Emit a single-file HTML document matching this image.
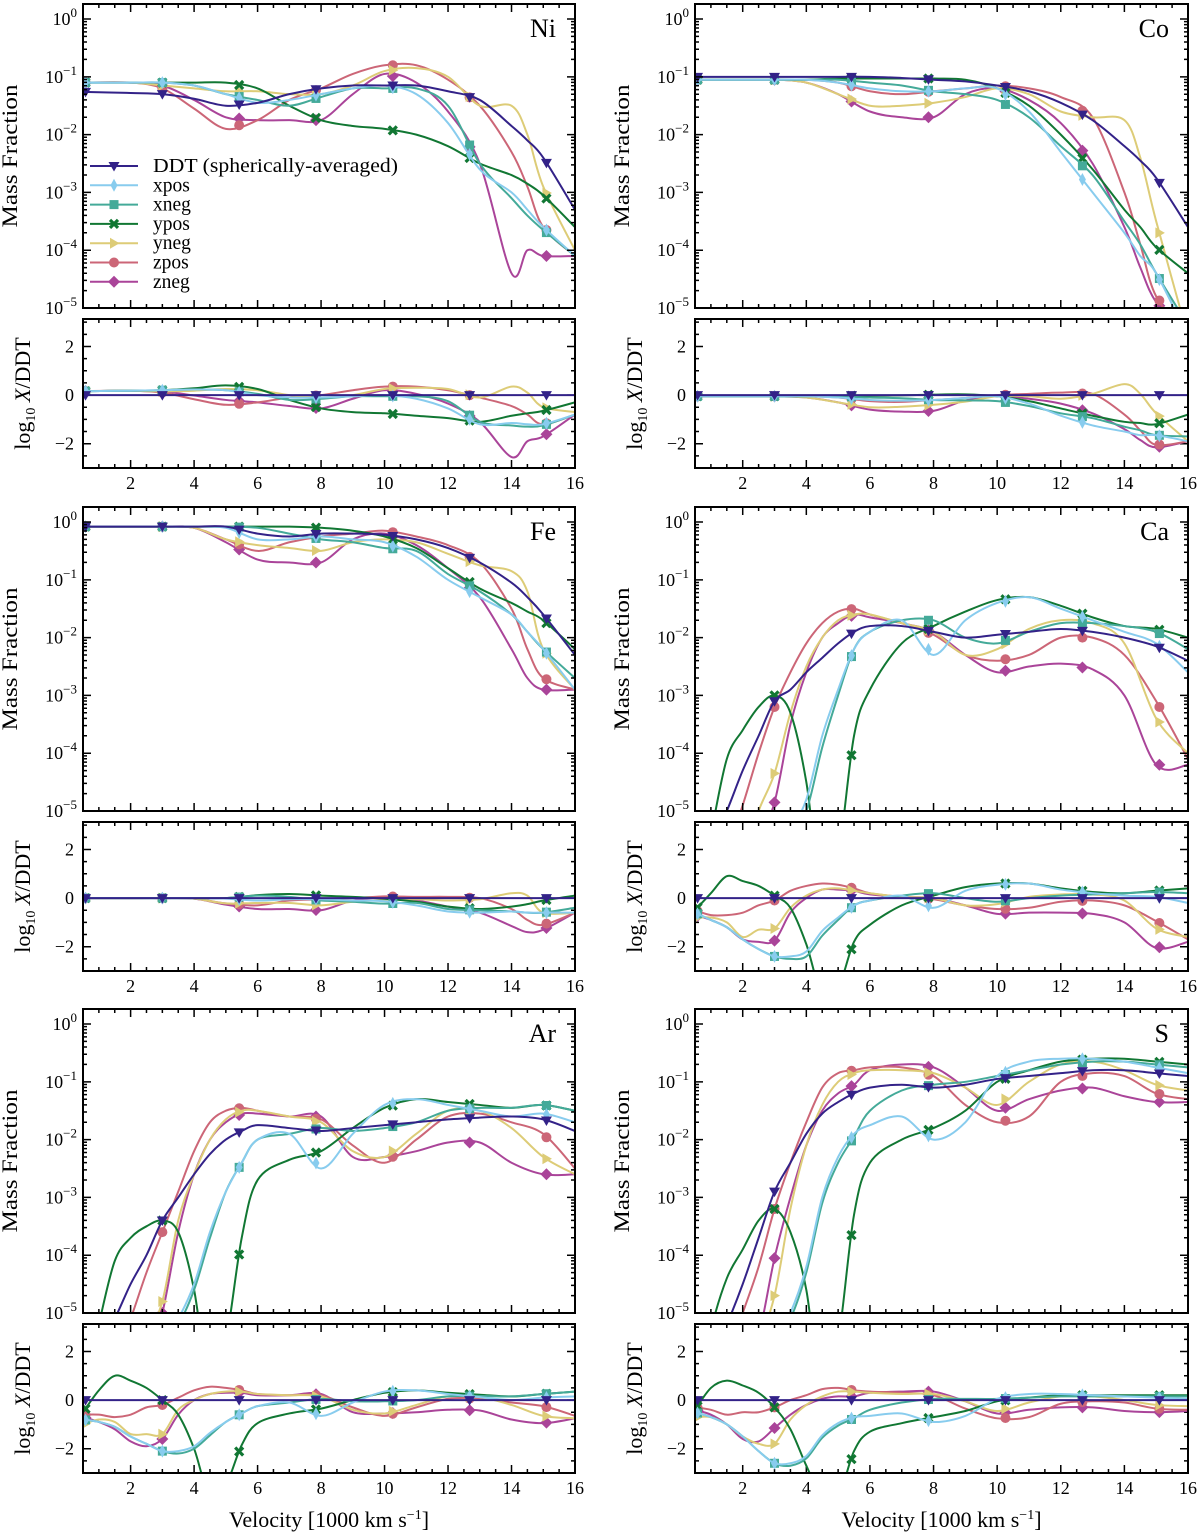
<!DOCTYPE html>
<html><head><meta charset="utf-8">
<style>
html,body{margin:0;padding:0;background:#fff;}
svg{display:block;font-family:"Liberation Serif",serif;}
</style></head>
<body>
<svg id="fig" width="1200" height="1538" viewBox="0 0 1200 1538" xmlns="http://www.w3.org/2000/svg"></svg>
<script>
// ---------- data ----------
const seriesNames = ["DDT (spherically-averaged)","xpos","xneg","ypos","yneg","zpos","zneg"];
const seriesKeys = ["ddt","xpos","xneg","ypos","yneg","zpos","zneg"];
const elements = ["Ni","Co","Fe","Ca","Ar","S"];
const xTicks = [2,4,6,8,10,12,14,16];
const yMainTicks = [0,-1,-2,-3,-4,-5];
const yRatioTicks = [2,0,-2];
const markerVel = [0.58,3.0,5.42,7.84,10.26,12.68,15.1];
// velocity grids (1000 km/s)
const velA = [0.5,2,3,4,5,6,7,8,9,10,11,12,13,14,14.5,15,16];
const velB = [0.5,1,1.5,2,2.5,3,3.5,4,4.5,5,5.5,6,7,8,9,10,11,12,13,14,15,16];
// log10 mass fractions
const niDDT  = [-1.26,-1.28,-1.3,-1.38,-1.5,-1.45,-1.3,-1.2,-1.15,-1.15,-1.15,-1.25,-1.4,-1.85,-2.1,-2.4,-3.3];
const niXpos = [-1.1,-1.1,-1.1,-1.15,-1.3,-1.45,-1.4,-1.3,-1.2,-1.15,-1.3,-1.8,-2.6,-3.0,-3.3,-3.6,-4.1];
const niXneg = [-1.1,-1.1,-1.1,-1.15,-1.3,-1.4,-1.5,-1.35,-1.2,-1.2,-1.2,-1.5,-2.5,-3.1,-3.4,-3.65,-4.1];
const niYpos = [-1.1,-1.1,-1.1,-1.1,-1.1,-1.2,-1.5,-1.75,-1.85,-1.9,-2.0,-2.2,-2.5,-2.7,-2.85,-3.05,-3.6];
const niYneg = [-1.1,-1.1,-1.15,-1.2,-1.25,-1.25,-1.3,-1.3,-1.15,-0.9,-0.85,-1.0,-1.5,-1.5,-2.0,-2.9,-4.0];
const niZpos = [-1.1,-1.1,-1.2,-1.55,-1.9,-1.75,-1.4,-1.2,-0.95,-0.8,-0.8,-1.05,-1.5,-2.3,-2.9,-3.6,-4.1];
const niZneg = [-1.1,-1.1,-1.15,-1.4,-1.7,-1.75,-1.75,-1.75,-1.3,-0.95,-1.1,-1.6,-2.5,-4.4,-4.0,-4.1,-4.1];

const coDDT  = [-1.0,-1.0,-1.0,-1.0,-1.0,-1.0,-1.02,-1.05,-1.08,-1.15,-1.25,-1.45,-1.75,-2.2,-2.45,-2.75,-3.6];
const coXpos = [-1.05,-1.05,-1.05,-1.05,-1.1,-1.2,-1.25,-1.25,-1.2,-1.2,-1.6,-2.3,-3.0,-3.7,-4.1,-4.4,-5.5];
const coXneg = [-1.05,-1.05,-1.05,-1.05,-1.05,-1.1,-1.15,-1.25,-1.3,-1.4,-1.7,-2.2,-2.7,-3.5,-3.9,-4.4,-5.3];
const coYpos = [-1.05,-1.05,-1.05,-1.05,-1.03,-1.03,-1.03,-1.03,-1.05,-1.2,-1.5,-2.0,-2.6,-3.3,-3.6,-3.95,-4.4];
const coYneg = [-1.05,-1.05,-1.05,-1.1,-1.3,-1.5,-1.5,-1.45,-1.35,-1.2,-1.3,-1.6,-1.7,-1.75,-2.4,-3.5,-5.5];
const coZpos = [-1.05,-1.05,-1.05,-1.05,-1.1,-1.25,-1.3,-1.25,-1.2,-1.15,-1.2,-1.35,-1.7,-3.0,-3.9,-4.8,-5.5];
const coZneg = [-1.05,-1.05,-1.05,-1.1,-1.3,-1.6,-1.7,-1.7,-1.3,-1.2,-1.4,-1.8,-2.5,-3.6,-4.3,-4.9,-5.5];

const feDDT  = [-0.08,-0.08,-0.08,-0.08,-0.08,-0.2,-0.25,-0.2,-0.2,-0.22,-0.3,-0.45,-0.7,-1.05,-1.3,-1.6,-2.3];
const feXpos = [-0.08,-0.08,-0.08,-0.08,-0.1,-0.3,-0.3,-0.25,-0.3,-0.35,-0.6,-1.0,-1.3,-1.6,-1.9,-2.2,-2.9];
const feXneg = [-0.08,-0.08,-0.08,-0.08,-0.08,-0.1,-0.2,-0.3,-0.35,-0.45,-0.5,-0.9,-1.2,-1.6,-1.9,-2.2,-2.7];
const feYpos = [-0.08,-0.08,-0.08,-0.08,-0.08,-0.08,-0.08,-0.1,-0.15,-0.25,-0.45,-0.8,-1.15,-1.4,-1.55,-1.7,-2.2];
const feYneg = [-0.08,-0.08,-0.08,-0.1,-0.3,-0.4,-0.45,-0.5,-0.35,-0.3,-0.35,-0.55,-0.75,-0.85,-1.2,-2.2,-2.9];
const feZpos = [-0.08,-0.08,-0.08,-0.1,-0.3,-0.5,-0.35,-0.25,-0.2,-0.15,-0.25,-0.4,-0.7,-1.5,-2.2,-2.7,-2.9];
const feZneg = [-0.08,-0.08,-0.08,-0.1,-0.35,-0.65,-0.7,-0.7,-0.3,-0.2,-0.4,-0.8,-1.3,-2.2,-2.7,-2.9,-2.9];

const caDDT  = [-6.2,-5.6,-5.0,-4.3,-3.7,-3.1,-2.9,-2.6,-2.35,-2.1,-1.9,-1.8,-1.8,-1.9,-2.0,-1.95,-1.9,-1.85,-1.9,-2.0,-2.15,-2.4];
const caXpos = [-6.8,-6.5,-6.2,-6.0,-5.8,-5.5,-5.3,-4.8,-3.7,-2.9,-2.2,-1.9,-1.7,-2.3,-1.7,-1.4,-1.3,-1.5,-1.7,-1.9,-2.1,-2.6];
const caXneg = [-6.8,-6.5,-6.2,-6.0,-5.8,-5.5,-5.4,-5.0,-3.9,-3.0,-2.2,-1.9,-1.7,-1.7,-2.0,-2.1,-1.9,-1.75,-1.75,-1.8,-1.9,-2.2];
const caYpos = [-6.7,-5.4,-4.1,-3.6,-3.2,-3.0,-3.3,-4.5,-6.5,-5.8,-3.7,-2.9,-2.1,-1.8,-1.55,-1.35,-1.3,-1.45,-1.65,-1.8,-1.85,-2.0];
const caYneg = [-7.0,-6.4,-6.0,-5.9,-5.0,-4.35,-3.3,-2.5,-2.0,-1.7,-1.6,-1.6,-1.75,-1.9,-2.3,-2.2,-1.85,-1.7,-1.75,-2.1,-3.4,-4.0];
const caZpos = [-6.7,-6.3,-5.7,-4.9,-4.0,-3.2,-2.6,-2.1,-1.75,-1.55,-1.5,-1.6,-1.75,-1.95,-2.3,-2.4,-2.3,-2.0,-2.0,-2.3,-3.1,-4.1];
const caZneg = [-6.9,-6.5,-6.2,-6.0,-5.5,-4.85,-3.5,-2.6,-2.0,-1.75,-1.6,-1.65,-1.75,-1.9,-2.3,-2.6,-2.5,-2.45,-2.55,-3.0,-4.2,-4.2];

const arDDT  = [-6.0,-5.6,-5.1,-4.5,-4.0,-3.4,-3.0,-2.6,-2.25,-2.0,-1.85,-1.75,-1.8,-1.85,-1.8,-1.75,-1.7,-1.65,-1.62,-1.6,-1.65,-1.85];
const arXpos = [-6.8,-6.5,-6.2,-6.0,-5.8,-5.5,-5.1,-4.5,-3.6,-2.9,-2.4,-2.0,-1.9,-2.5,-1.9,-1.4,-1.3,-1.4,-1.5,-1.6,-1.55,-1.7];
const arXneg = [-6.8,-6.5,-6.2,-6.0,-5.8,-5.5,-5.2,-4.6,-3.7,-2.9,-2.4,-2.0,-1.9,-1.8,-1.85,-1.8,-1.7,-1.5,-1.45,-1.45,-1.4,-1.5];
const arYpos = [-6.5,-5.2,-4.1,-3.7,-3.5,-3.4,-3.6,-4.6,-6.3,-5.5,-3.7,-2.7,-2.35,-2.2,-1.8,-1.45,-1.3,-1.35,-1.4,-1.45,-1.4,-1.5];
const arYneg = [-7.0,-6.4,-6.0,-5.9,-5.4,-4.8,-3.4,-2.6,-2.0,-1.65,-1.5,-1.5,-1.6,-1.7,-2.2,-2.3,-1.9,-1.5,-1.5,-1.8,-2.3,-2.6];
const arZpos = [-6.6,-6.2,-5.8,-5.1,-4.3,-3.6,-2.9,-2.2,-1.7,-1.5,-1.45,-1.5,-1.6,-1.65,-2.1,-2.4,-2.0,-1.6,-1.55,-1.7,-1.9,-2.5];
const arZneg = [-6.7,-6.5,-6.3,-6.2,-5.9,-5.0,-3.6,-2.6,-2.0,-1.7,-1.55,-1.55,-1.6,-1.6,-2.3,-2.3,-2.2,-2.05,-2.05,-2.4,-2.6,-2.6];

const sDDT  = [-6.3,-5.8,-5.2,-4.5,-3.7,-2.9,-2.4,-1.9,-1.55,-1.35,-1.2,-1.1,-1.05,-1.1,-1.05,-0.95,-0.9,-0.85,-0.8,-0.8,-0.85,-0.9];
const sXpos = [-6.8,-6.5,-6.2,-6.0,-5.8,-5.5,-5.0,-4.2,-3.0,-2.3,-1.9,-1.75,-1.6,-2.0,-1.7,-0.9,-0.65,-0.6,-0.6,-0.65,-0.75,-0.85];
const sXneg = [-6.8,-6.5,-6.2,-6.0,-5.8,-5.5,-5.1,-4.3,-3.1,-2.4,-1.95,-1.5,-1.15,-1.05,-1.0,-0.9,-0.8,-0.7,-0.65,-0.65,-0.7,-0.75];
const sYpos = [-6.7,-5.3,-4.4,-3.9,-3.4,-3.2,-3.6,-4.6,-6.5,-5.5,-3.3,-2.4,-2.0,-1.8,-1.5,-1.0,-0.8,-0.65,-0.6,-0.6,-0.65,-0.7];
const sYneg = [-7.0,-6.5,-6.2,-6.0,-5.5,-4.7,-3.2,-2.1,-1.4,-1.0,-0.85,-0.8,-0.8,-0.85,-1.1,-1.4,-1.0,-0.7,-0.65,-0.8,-1.05,-1.15];
const sZpos = [-6.6,-6.2,-5.8,-5.0,-4.2,-3.2,-2.4,-1.7,-1.1,-0.85,-0.8,-0.75,-0.75,-0.9,-1.4,-1.7,-1.6,-1.0,-0.85,-0.9,-1.2,-1.3];
const sZneg = [-6.7,-6.4,-6.2,-6.1,-5.4,-4.05,-3.0,-2.1,-1.5,-1.2,-1.05,-0.8,-0.7,-0.75,-1.1,-1.5,-1.3,-1.15,-1.1,-1.25,-1.35,-1.35];

// ---------- rendering ----------
const colors = ["#332288","#88CCEE","#44AA99","#117733","#DDCC77","#CC6677","#AA4499"];
const NS = "http://www.w3.org/2000/svg";
const svg = document.getElementById("fig");
function mk(tag, attrs, parent){
  const e = document.createElementNS(NS, tag);
  for (const k in attrs) e.setAttribute(k, attrs[k]);
  (parent||svg).appendChild(e);
  return e;
}
const panelsData = {
  Ni:{v:velA, s:[niDDT,niXpos,niXneg,niYpos,niYneg,niZpos,niZneg], col:0,row:0},
  Co:{v:velA, s:[coDDT,coXpos,coXneg,coYpos,coYneg,coZpos,coZneg], col:1,row:0},
  Fe:{v:velA, s:[feDDT,feXpos,feXneg,feYpos,feYneg,feZpos,feZneg], col:0,row:1},
  Ca:{v:velB, s:[caDDT,caXpos,caXneg,caYpos,caYneg,caZpos,caZneg], col:1,row:1},
  Ar:{v:velB, s:[arDDT,arXpos,arXneg,arYpos,arYneg,arZpos,arZneg], col:0,row:2},
  S :{v:velB, s:[sDDT,sXpos,sXneg,sYpos,sYneg,sZpos,sZneg], col:1,row:2}
};
const colX = [[83,575],[695,1188]];
const rowOff = [0,503,1005];
const XMIN=0.5, XMAX=16;
function interp(v, arr, x){
  if (x<=v[0]) return arr[0];
  for (let i=1;i<v.length;i++){ if (x<=v[i]){ const t=(x-v[i-1])/(v[i]-v[i-1]); return arr[i-1]+t*(arr[i]-arr[i-1]); } }
  return arr[arr.length-1];
}
function smoothPath(pts){
  let d = "M"+pts[0][0].toFixed(2)+","+pts[0][1].toFixed(2);
  for (let i=0;i<pts.length-1;i++){
    const p0=pts[Math.max(0,i-1)], p1=pts[i], p2=pts[i+1], p3=pts[Math.min(pts.length-1,i+2)];
    const c1x=p1[0]+(p2[0]-p0[0])/6, c1y=p1[1]+(p2[1]-p0[1])/6;
    const c2x=p2[0]-(p3[0]-p1[0])/6, c2y=p2[1]-(p3[1]-p1[1])/6;
    d += " C"+c1x.toFixed(2)+","+c1y.toFixed(2)+" "+c2x.toFixed(2)+","+c2y.toFixed(2)+" "+p2[0].toFixed(2)+","+p2[1].toFixed(2);
  }
  return d;
}
function marker(g, k, x, y, c){
  let e;
  if (k===0) e = mk("path",{d:`M${x-5.5},${y-4} L${x+5.5},${y-4} L${x},${y+5.5} Z`,fill:c},g);
  else if (k===1) e = mk("path",{d:`M${x},${y-6.5} L${x+3.5},${y} L${x},${y+6.5} L${x-3.5},${y} Z`,fill:c},g);
  else if (k===2) e = mk("rect",{x:x-4.5,y:y-4.5,width:9,height:9,fill:c},g);
  else if (k===3) e = mk("path",{d:`M${x-4},${y-4} L${x+4},${y+4} M${x+4},${y-4} L${x-4},${y+4}`,stroke:c,"stroke-width":3.2},g);
  else if (k===4) e = mk("path",{d:`M${x-4},${y-5.5} L${x+5.5},${y} L${x-4},${y+5.5} Z`,fill:c},g);
  else if (k===5) e = mk("circle",{cx:x,cy:y,r:5,fill:c},g);
  else e = mk("path",{d:`M${x},${y-6} L${x+6},${y} L${x},${y+6} L${x-6},${y} Z`,fill:c},g);
  return e;
}
function supLabel(parent, x, y, base, exp, anchor){
  const t = mk("text",{x:x,y:y,"font-size":18,"text-anchor":anchor||"end",fill:"#000"},parent);
  const b = mk("tspan",{},t); b.textContent = base;
  const s = mk("tspan",{dy:-8,"font-size":13},t); s.textContent = exp;
  return t;
}
let clipId=0;
function drawPanel(el){
  const P = panelsData[el];
  const [x0,x1] = colX[P.col];
  const off = rowOff[P.row];
  const sx = v => x0 + (v-XMIN)/(XMAX-XMIN)*(x1-x0);
  const my0 = 4+off, my1 = 308+off;
  const LTOP = 0.26, LBOT = -5;
  const sy = l => my0 + (LTOP-l)/(LTOP-LBOT)*(my1-my0);
  const ry0 = 319+off, ry1 = 468+off;
  const RTOP = 3.13, RBOT = -3.0;
  const sr = r => ry0 + (RTOP-r)/(RTOP-RBOT)*(ry1-ry0);

  const gm = mk("g",{});
  
  
  const gr = mk("g",{});
  
  

  const cm = "c"+(clipId++), cr = "c"+(clipId++);
  const defs = mk("defs",{},gm);
  const cpm = mk("clipPath",{id:cm},defs); mk("rect",{x:x0,y:my0,width:x1-x0,height:my1-my0},cpm);
  const cpr = mk("clipPath",{id:cr},defs); mk("rect",{x:x0,y:ry0,width:x1-x0,height:ry1-ry0},cpr);

  const linesM = mk("g",{"clip-path":`url(#${cm})`},gm);
  const linesR = mk("g",{"clip-path":`url(#${cr})`},gr);
  const ddt = P.s[0];
  for (let k=6;k>=0;k--){
    const arr = P.s[k];
    const ptsM = P.v.map((v,i)=>[sx(v), sy(arr[i])]);
    const pm = mk("path",{d:smoothPath(ptsM),fill:"none",stroke:colors[k],"stroke-width":2},linesM);
    
    
    const ptsR = P.v.map((v,i)=>[sx(v), sr(Math.max(-4,Math.min(4,arr[i]-ddt[i])))]);
    const pr = mk("path",{d:smoothPath(ptsR),fill:"none",stroke:colors[k],"stroke-width":2},linesR);
    
    
    markerVel.forEach(mv=>{
      const val = interp(P.v, arr, mv);
      const rv = val - interp(P.v, ddt, mv);
      if (val>=LBOT && val<=LTOP){
        const m = marker(linesM,k,sx(mv),sy(val),colors[k]);
        
        
      }
      if (rv>=RBOT && rv<=RTOP){
        const m2 = marker(linesR,k,sx(mv),sr(rv),colors[k]);
        
        
      }
    });
  }
  mk("rect",{x:x0,y:my0,width:x1-x0,height:my1-my0,fill:"none",stroke:"#000","stroke-width":2},gm);
  mk("rect",{x:x0,y:ry0,width:x1-x0,height:ry1-ry0,fill:"none",stroke:"#000","stroke-width":2},gr);
  let td="";
  for (let v=0.5; v<=16.001; v+=0.5){
    const X=sx(v); const major = Math.abs(v%2)<1e-6;
    const L = major?8:4;
    td += `M${X},${my1}v${-L}M${X},${my0}v${L}M${X},${ry1}v${-L}M${X},${ry0}v${L}`;
  }
  for (let d=0; d>=-5; d--){
    const Y=sy(d);
    td += `M${x0},${Y}h8M${x1},${Y}h-8`;
    for (let m=2;m<=9;m++){
      const Ym = sy(d-1+Math.log10(m));
      if (Ym<=my1 && Ym>=my0) td += `M${x0},${Ym}h4M${x1},${Ym}h-4`;
    }
  }
  for (let r=-3; r<=3.001; r+=0.5){
    const Y=sr(r); const major = Math.abs(r%2)<1e-6;
    const L = major?8:4;
    td += `M${x0},${Y}h${L}M${x1},${Y}h${-L}`;
  }
  mk("path",{d:td,stroke:"#000","stroke-width":1.5,fill:"none"},gm);
  yMainTicks.forEach(d=>{
    const t = supLabel(gm, x0-6, sy(d)+6, "10", d===0?"0":"\u2212"+(-d));
    
    
  });
  yRatioTicks.forEach(r=>{
    const t = mk("text",{x:x0-9,y:sr(r)+6,"font-size":18,"text-anchor":"end"},gr);
    t.textContent = r<0 ? "\u2212"+(-r) : String(r);
    
    
  });
  xTicks.forEach(v=>{
    const t = mk("text",{x:sx(v),y:ry1+21,"font-size":18,"text-anchor":"middle"},gr);
    t.textContent = String(v);
    
    
  });
  const lab = mk("text",{x:x1-19,y:my0+33,"font-size":26,"text-anchor":"end"},gm);
  lab.textContent = el;
  
  
  const yt = mk("text",{transform:`translate(${x0-66},${(my0+my1)/2}) rotate(-90)`,"font-size":22,"text-anchor":"middle",textLength:143,lengthAdjust:"spacingAndGlyphs"},gm);
  yt.textContent = "Mass Fraction";
  
  
  const rt = mk("text",{transform:`translate(${x0-53},${(ry0+ry1)/2}) rotate(-90)`,"font-size":22,"text-anchor":"middle"},gr);
  const r1 = mk("tspan",{},rt); r1.textContent="log";
  const r2 = mk("tspan",{"font-size":14,dy:5},rt); r2.textContent="10";
  const r3 = mk("tspan",{dy:-5,"font-style":"italic"},rt); r3.textContent=" X";
  const r4 = mk("tspan",{},rt); r4.textContent="/DDT";
  
  
  if (P.row===2){
    const xt = mk("text",{x:(x0+x1)/2,y:1527,"font-size":22,"text-anchor":"middle"},gr);
    const a = mk("tspan",{},xt); a.textContent="Velocity [1000 km s";
    const b = mk("tspan",{dy:-8,"font-size":14},xt); b.textContent="\u22121";
    const c = mk("tspan",{dy:8},xt); c.textContent="]";
    
    
  }
}
elements.forEach(drawPanel);

const lg = mk("g",{});


seriesNames.forEach((nm,k)=>{
  const y = 166 + k*19.3;
  const ent = mk("g",{},lg);
  
  
  mk("line",{x1:90,y1:y,x2:138,y2:y,stroke:colors[k],"stroke-width":2},ent);
  marker(ent,k,114,y,colors[k]);
  const t = mk("text",{x:153,y:y+6,"font-size":19.5},ent);
  if (k===0){ t.setAttribute("textLength","245"); t.setAttribute("lengthAdjust","spacingAndGlyphs"); }
  t.textContent = nm;
});
</script>
</body></html>
